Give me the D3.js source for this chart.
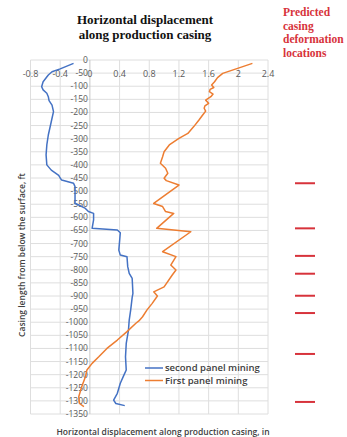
<!DOCTYPE html>
<html>
<head>
<meta charset="utf-8">
<script src="https://cdn.jsdelivr.net/npm/d3@7"></script>
<style>
  body { margin: 0; background: #fff; }
</style>
</head>
<body>
<div id="chart"></div>
<script>
// depth below surface (ft), displacement (in)
const secondDepth = [13, 34, 45, 57, 83, 102, 114, 127, 140, 155, 172, 197, 222, 248, 286, 324, 362, 400, 420, 440, 450, 458, 470, 483, 547, 553, 566, 578, 585, 610, 642, 648, 659, 725, 744, 750, 788, 814, 833, 890, 905, 953, 992, 1030, 1081, 1132, 1182, 1201, 1233, 1271, 1297, 1310, 1318];
const secondDisp = [-0.22, -0.40, -0.51, -0.56, -0.63, -0.65, -0.63, -0.58, -0.56, -0.55, -0.51, -0.49, -0.51, -0.53, -0.56, -0.58, -0.59, -0.58, -0.52, -0.42, -0.40, -0.38, -0.22, -0.20, -0.20, -0.15, -0.06, -0.02, 0.05, 0.05, 0.03, 0.37, 0.41, 0.39, 0.41, 0.50, 0.51, 0.53, 0.57, 0.58, 0.57, 0.55, 0.53, 0.52, 0.49, 0.48, 0.49, 0.46, 0.41, 0.37, 0.32, 0.35, 0.47];

const firstDepth = [13, 32, 51, 67, 83, 95, 105, 112, 121, 130, 140, 153, 165, 175, 184, 195, 210, 229, 254, 280, 299, 324, 350, 369, 394, 413, 432, 451, 460, 477, 547, 559, 578, 585, 642, 655, 731, 750, 782, 801, 820, 865, 884, 900, 928, 953, 979, 995, 1004, 1036, 1068, 1100, 1132, 1157, 1182, 1208, 1246, 1284, 1310, 1322];
const firstDisp = [2.19, 1.99, 1.79, 1.72, 1.68, 1.64, 1.67, 1.62, 1.61, 1.66, 1.63, 1.56, 1.60, 1.55, 1.54, 1.56, 1.52, 1.47, 1.40, 1.32, 1.20, 1.07, 1.00, 0.98, 0.95, 1.02, 1.05, 1.00, 1.03, 1.20, 0.86, 0.98, 1.02, 1.13, 0.90, 1.36, 0.98, 1.16, 1.09, 1.16, 1.11, 1.00, 0.86, 0.91, 0.84, 0.77, 0.71, 0.66, 0.62, 0.50, 0.37, 0.23, 0.12, 0.03, -0.04, -0.06, -0.11, -0.15, -0.14, -0.08];

const predictedDepths = [470, 642, 747, 815, 899, 965, 1121, 1304];

const xTicks = [-0.8, -0.4, 0, 0.4, 0.8, 1.2, 1.6, 2, 2.4];
const yTicks = d3.range(0, 1351, 50);

const seriesNames = ["second panel mining", "First panel mining"];
const colors = ["#4472C4", "#ED7D31"];

const width = 347;
const height = 437;

const svg = d3.select("#chart")
    .append("svg")
    .attr("width", width)
    .attr("height", height);

const x = d3.scaleLinear().domain([-0.8, 2.4]).range([30.5, 268]);
const y = d3.scaleLinear().domain([0, 1350]).range([60, 414]);

// gridlines
svg.append("g")
    .selectAll("line")
    .data(yTicks)
    .join("line")
    .attr("x1", x(-0.8))
    .attr("x2", x(2.4))
    .attr("y1", d => y(d))
    .attr("y2", d => y(d))
    .attr("stroke", "#dedede")
    .attr("stroke-width", 1);

svg.append("g")
    .selectAll("line")
    .data(xTicks)
    .join("line")
    .attr("x1", d => x(d))
    .attr("x2", d => x(d))
    .attr("y1", y(0))
    .attr("y2", y(1350))
    .attr("stroke", d => d === 0 ? "#c8c8c8" : "#dedede")
    .attr("stroke-width", 1);

// tick labels
const tickFont = "'Open Sans', sans-serif";
svg.append("g")
    .selectAll("text")
    .data(xTicks)
    .join("text")
    .attr("x", d => x(d))
    .attr("y", 76.5)
    .attr("text-anchor", "middle")
    .style("font-family", tickFont)
    .style("font-size", "9px")
    .style("fill", "#595959")
    .text(d => d);

svg.append("g")
    .selectAll("text")
    .data(yTicks)
    .join("text")
    .attr("x", x(0) - 2)
    .attr("y", d => y(d) + 3)
    .attr("text-anchor", "end")
    .style("font-family", tickFont)
    .style("font-size", "8.5px")
    .style("fill", "#595959")
    .text(d => d === 0 ? "0" : "-" + d);

// lines
const line = d3.line()
    .x(d => x(d[1]))
    .y(d => y(d[0]));

const secondData = secondDepth.map((d, i) => [d, secondDisp[i]]);
const firstData = firstDepth.map((d, i) => [d, firstDisp[i]]);

svg.append("path")
    .datum(secondData)
    .attr("fill", "none")
    .attr("stroke", colors[0])
    .attr("stroke-width", 1.5)
    .attr("stroke-linejoin", "round")
    .attr("d", line);

svg.append("path")
    .datum(firstData)
    .attr("fill", "none")
    .attr("stroke", colors[1])
    .attr("stroke-width", 1.5)
    .attr("stroke-linejoin", "round")
    .attr("d", line);

// legend
const legend = svg.append("g").attr("transform", "translate(145,368)");
seriesNames.forEach((name, i) => {
    legend.append("line")
        .attr("x1", 0).attr("x2", 18)
        .attr("y1", i * 12.5).attr("y2", i * 12.5)
        .attr("stroke", colors[i])
        .attr("stroke-width", 1.5);
    legend.append("text")
        .attr("x", 20)
        .attr("y", i * 12.5 + 3.3)
        .style("font-family", tickFont)
        .style("font-size", "9.5px")
        .style("font-weight", "600")
        .style("fill", "#404040")
        .text(name);
});

// title
svg.append("text")
    .attr("x", 145)
    .attr("text-anchor", "middle")
    .style("font-family", "'Liberation Serif', serif")
    .style("font-size", "13px")
    .style("font-weight", "bold")
    .style("fill", "#111")
    .selectAll("tspan")
    .data(["Horizontal displacement", "along production casing"])
    .join("tspan")
    .attr("x", 145)
    .attr("y", (d, i) => 24 + i * 15)
    .text(d => d);

// axis titles
svg.append("text")
    .attr("x", 163)
    .attr("y", 435)
    .attr("text-anchor", "middle")
    .style("font-family", tickFont)
    .style("font-size", "8.5px")
    .style("font-weight", "600")
    .style("fill", "#404040")
    .text("Horizontal displacement along production casing, in");

svg.append("text")
    .attr("transform", "rotate(-90)")
    .attr("x", -255)
    .attr("y", 25)
    .attr("text-anchor", "middle")
    .style("font-family", tickFont)
    .style("font-size", "8.5px")
    .style("font-weight", "600")
    .style("fill", "#404040")
    .text("Casing length from below the surface, ft");

// predicted casing deformation locations
svg.append("text")
    .style("font-family", "'Liberation Serif', serif")
    .style("font-size", "11.5px")
    .style("font-weight", "bold")
    .style("fill", "#d7333b")
    .selectAll("tspan")
    .data(["Predicted", "casing", "deformation", "locations"])
    .join("tspan")
    .attr("x", 283)
    .attr("y", (d, i) => 16 + i * 13.5)
    .text(d => d);

svg.append("g")
    .selectAll("line")
    .data(predictedDepths)
    .join("line")
    .attr("x1", 295)
    .attr("x2", 315)
    .attr("y1", d => y(d))
    .attr("y2", d => y(d))
    .attr("stroke", "#d7333b")
    .attr("stroke-width", 2);
</script>
</body>
</html>
